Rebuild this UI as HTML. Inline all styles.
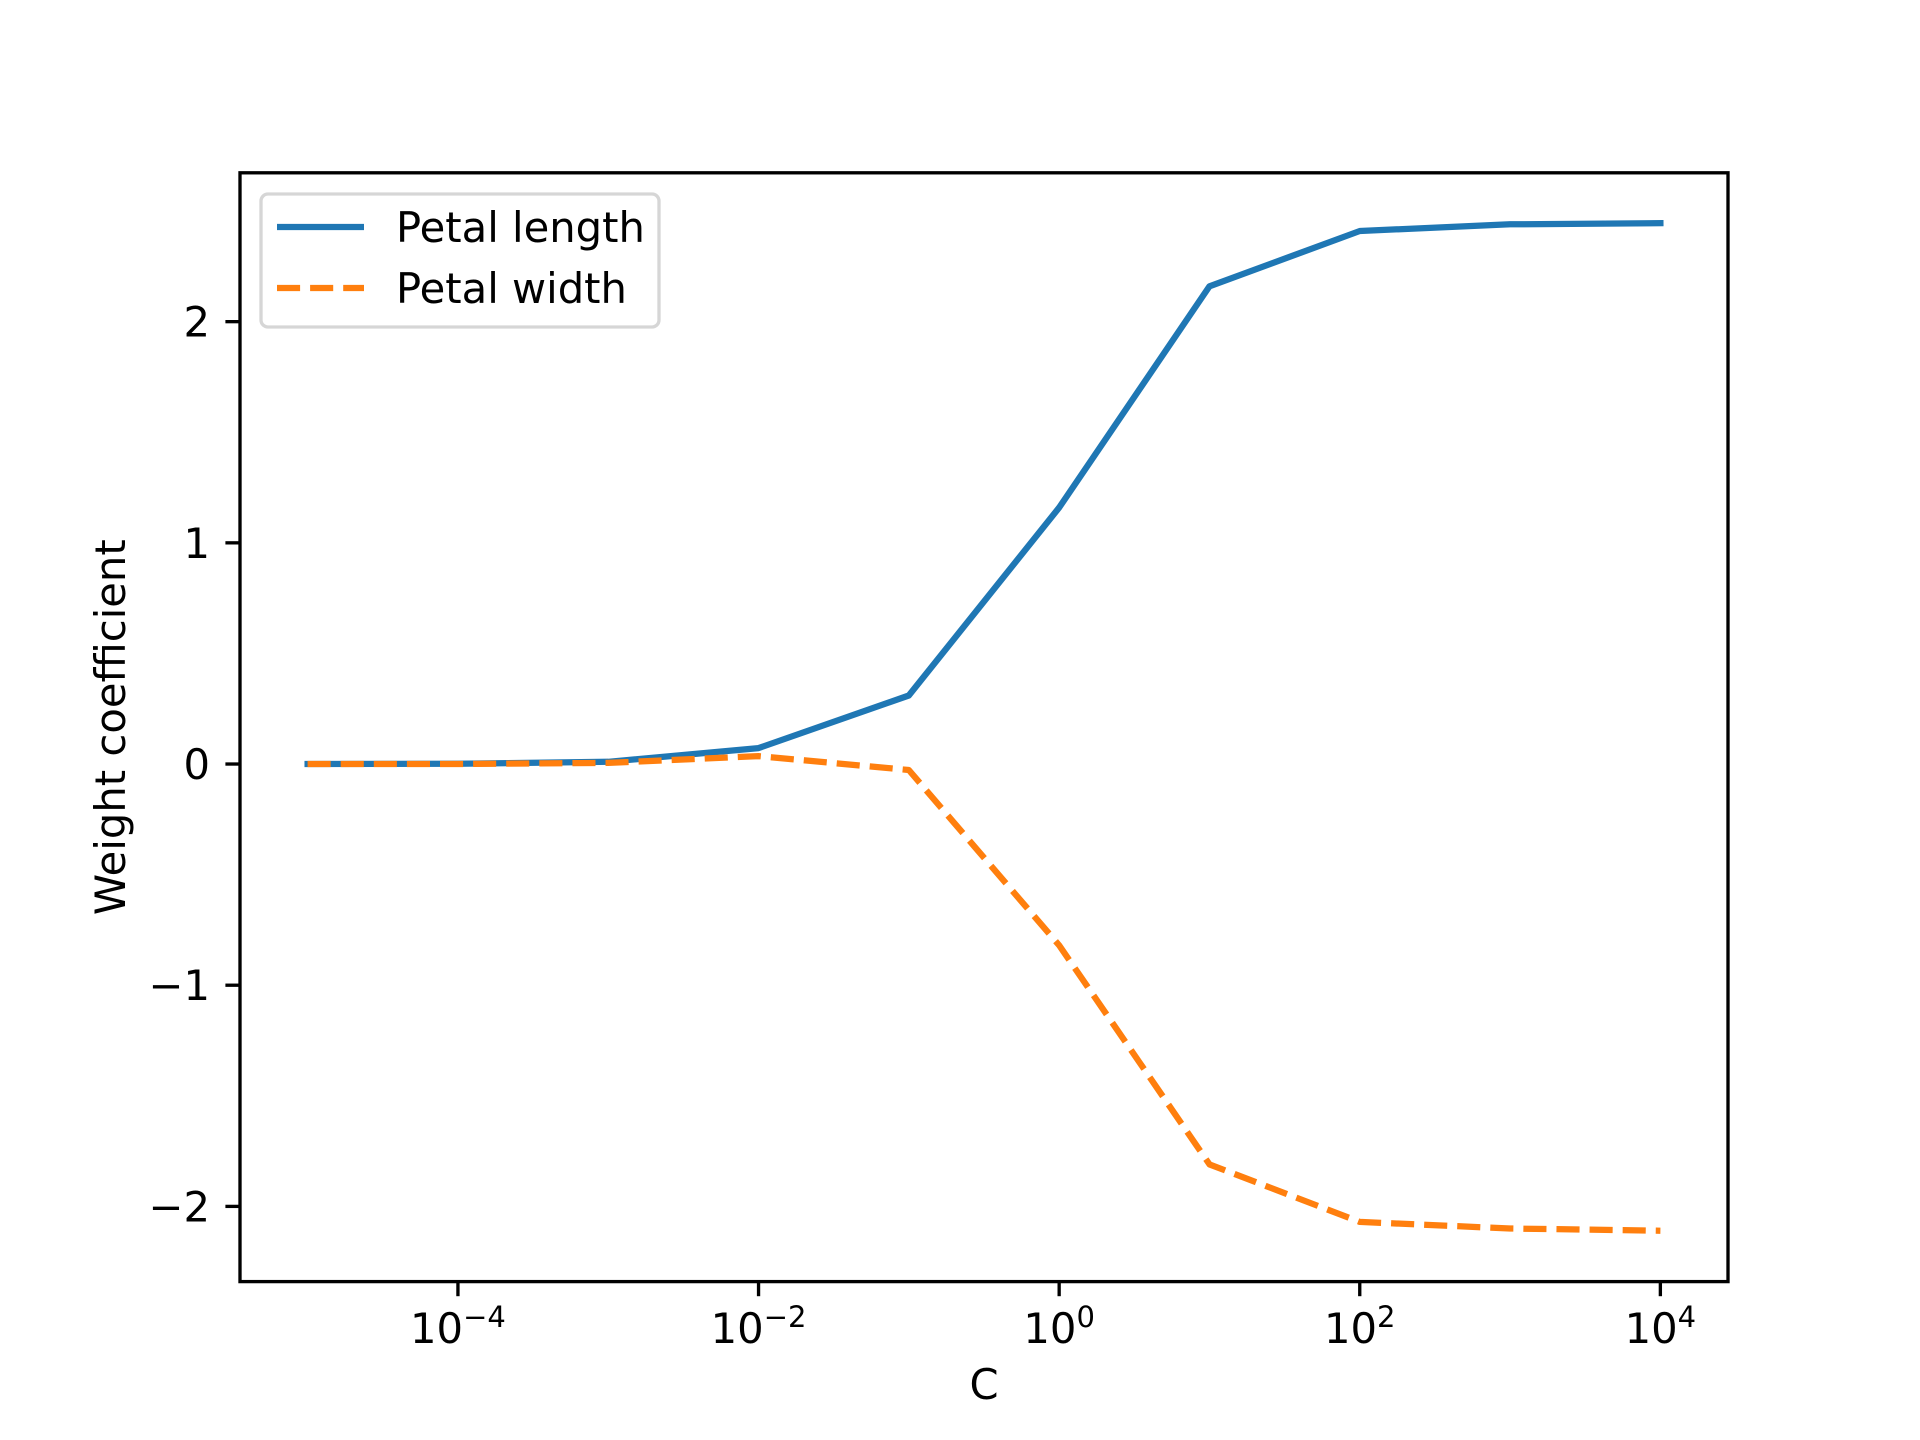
<!DOCTYPE html>
<html><head><meta charset="utf-8"><style>
html,body{margin:0;padding:0;background:#fff;width:1920px;height:1440px;overflow:hidden;}
svg{display:block;}
svg text{font-family:"DejaVu Sans","Liberation Sans",sans-serif;fill:#000;}
</style></head><body>
<svg id="chart" width="1920" height="1440" viewBox="0 0 1920 1440" xmlns="http://www.w3.org/2000/svg">
<rect x="0" y="0" width="1920" height="1440" fill="#fff"/>
<g id="plot"></g>
</svg>
<script>
const cExponents = [-5, -4, -3, -2, -1, 0, 1, 2, 3, 4];
const petalLength = [0.0, 0.001, 0.01, 0.072, 0.31, 1.16, 2.16, 2.41, 2.44, 2.445];
const petalWidth = [0.0, 0.0, 0.005, 0.036, -0.027, -0.82, -1.81, -2.07, -2.1, -2.11];
const xTickExps = [-4, -2, 0, 2, 4];
const yTicks = [-2, -1, 0, 1, 2];
const yTickLabels = ["\u22122", "\u22121", "0", "1", "2"];

const L = 240, R = 1728, T = 172.8, B = 1281.6;
const xMin = -5.45, xMax = 4.45, yMin = -2.34, yMax = 2.673;
function xs(e){ return L + (e - xMin) / (xMax - xMin) * (R - L); }
function ys(v){ return B - (v - yMin) / (yMax - yMin) * (B - T); }
const NS = "http://www.w3.org/2000/svg";
const g = document.getElementById('plot');
function mk(tag, attrs, parent){
  const el = document.createElementNS(NS, tag);
  for (const k in attrs) el.setAttribute(k, attrs[k]);
  (parent || g).appendChild(el);
  return el;
}
function series(vals, color, dash, name){
  const pts = cExponents.map((e, i) => xs(e).toFixed(1) + "," + ys(vals[i]).toFixed(1)).join(" ");
  const pl = mk('polyline', {points: pts, fill: 'none', stroke: color, 'stroke-width': 6.25, 'stroke-linejoin': 'round', 'stroke-linecap': dash ? 'butt' : 'square'});
  if (dash) pl.setAttribute('stroke-dasharray', dash);
  
  
}
series(petalLength, '#1f77b4', null, 'petal-length-line');
series(petalWidth, '#ff7f0e', '23.1 10', 'petal-width-line');

const frame = mk('rect', {x: L, y: T, width: R - L, height: B - T, fill: 'none', stroke: '#000', 'stroke-width': 3.33});



xTickExps.forEach(e => {
  const x = xs(e);
  const t = mk('line', {x1: x, y1: B, x2: x, y2: B + 14.6, stroke: '#000', 'stroke-width': 3.33});
  
  
  const tx = mk('text', {x: x, y: 1343, 'font-size': 41.7, 'text-anchor': 'middle'});
  
  
  const base = document.createElementNS(NS, 'tspan'); base.textContent = '10'; tx.appendChild(base);
  const sup = document.createElementNS(NS, 'tspan');
  sup.setAttribute('dy', -16); sup.setAttribute('font-size', 29);
  sup.textContent = e < 0 ? '\u2212' + (-e) : String(e);
  tx.appendChild(sup);
});
yTicks.forEach((v, i) => {
  const y = ys(v);
  const t = mk('line', {x1: L - 14.6, y1: y, x2: L, y2: y, stroke: '#000', 'stroke-width': 3.33});
  
  
  const tx = mk('text', {x: 210, y: y + 15, 'font-size': 41.7, 'text-anchor': 'end'});
  tx.textContent = yTickLabels[i];
  
  
});
const xt = mk('text', {x: (L + R) / 2, y: 1399, 'font-size': 41.7, 'text-anchor': 'middle'});
xt.textContent = 'C';


const yt = mk('text', {x: 0, y: 0, 'font-size': 41.7, 'text-anchor': 'middle', transform: 'translate(125,' + ((T + B) / 2) + ') rotate(-90)'});
yt.textContent = 'Weight coefficient';



const lg = mk('g', {});


mk('rect', {x: 261, y: 194, width: 398, height: 133, rx: 7, fill: '#fff', 'fill-opacity': 0.8, stroke: '#d6d6d6', 'stroke-width': 3.33}, lg);
const l1 = mk('line', {x1: 277, y1: 227, x2: 364, y2: 227, stroke: '#1f77b4', 'stroke-width': 6.25}, lg);


const t1 = mk('text', {x: 396, y: 242, 'font-size': 41.7}, lg);
t1.textContent = 'Petal length';


const l2 = mk('line', {x1: 277, y1: 288, x2: 364, y2: 288, stroke: '#ff7f0e', 'stroke-width': 6.25, 'stroke-dasharray': '23.1 10'}, lg);


const t2 = mk('text', {x: 396, y: 303, 'font-size': 41.7}, lg);
t2.textContent = 'Petal width';


</script>
</body></html>
